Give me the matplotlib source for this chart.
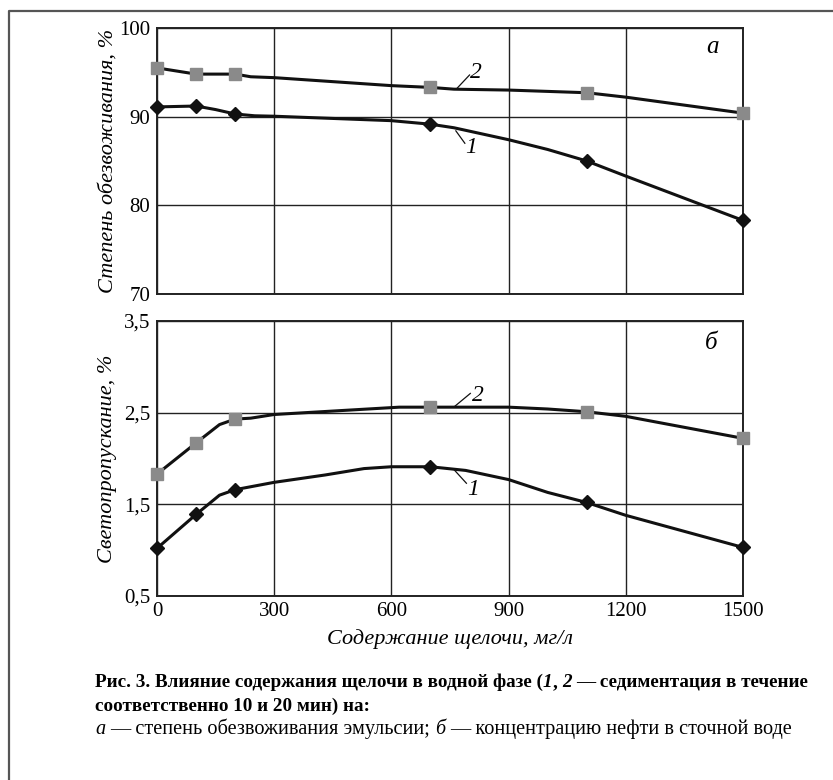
import numpy as np
import matplotlib.pyplot as plt
from matplotlib.lines import Line2D

SERIF = 'Liberation Serif'
plt.rcParams['font.family'] = [SERIF, 'DejaVu Serif']

# marker points
x_pts = [0, 100, 200, 700, 1100, 1500]
a1_pts = [91.1, 91.2, 90.3, 89.15, 85.0, 78.3]
a2_pts = [95.5, 94.8, 94.8, 93.3, 92.7, 90.4]
b1_pts = [1.02, 1.39, 1.66, 1.91, 1.52, 1.03]
b2_pts = [1.83, 2.17, 2.43, 2.56, 2.51, 2.22]

# curves
a1_x = [0, 100, 150, 200, 250, 300, 600, 700, 760, 900, 1000, 1100, 1200, 1500]
a1_y = [91.1, 91.2, 90.8, 90.3, 90.1, 90.05, 89.55, 89.15, 88.75, 87.4, 86.3, 85.0, 83.3, 78.3]
a2_x = [0, 100, 200, 240, 300, 500, 600, 700, 760, 900, 1100, 1200, 1300, 1500]
a2_y = [95.5, 94.8, 94.8, 94.5, 94.4, 93.8, 93.5, 93.3, 93.1, 93.0, 92.7, 92.2, 91.6, 90.4]
b1_x = [0, 100, 160, 200, 300, 430, 530, 600, 700, 790, 900, 1000, 1100, 1200, 1500]
b1_y = [1.02, 1.39, 1.60, 1.66, 1.74, 1.82, 1.89, 1.91, 1.91, 1.87, 1.77, 1.63, 1.52, 1.38, 1.03]
b2_x = [0, 100, 160, 200, 240, 300, 500, 620, 700, 900, 1000, 1100, 1200, 1500]
b2_y = [1.83, 2.17, 2.37, 2.43, 2.44, 2.48, 2.53, 2.56, 2.56, 2.56, 2.54, 2.51, 2.46, 2.22]

x_ticks = [0, 300, 600, 900, 1200, 1500]
a_ticks = [70, 80, 90, 100]
b_ticks = [0.5, 1.5, 2.5, 3.5]
b_ticklabels = ['0,5', '1,5', '2,5', '3,5']

fig = plt.figure(figsize=(8.33, 7.8), dpi=100)
W, H = 833, 780

def px_axes(l, t, r, b):
    return fig.add_axes([l / W, 1 - b / H, (r - l) / W, (b - t) / H])

ax1 = px_axes(157, 28, 743, 294)
ax2 = px_axes(157, 321, 743, 596)

def style_axes(ax, yticks, ylabels, ylim, ylabel):
    ax.set_xlim(0, 1500)
    ax.set_ylim(*ylim)
    ax.set_xticks(x_ticks)
    ax.set_yticks(yticks)
    ax.set_yticklabels(ylabels)
    ax.grid(True, color='#222222', lw=1.0)
    ax.set_axisbelow(True)
    ax.tick_params(length=0, labelsize=15, pad=5)
    for s in ax.spines.values():
        s.set_linewidth(1.4)
        s.set_color('#222222')
    ax.set_ylabel(ylabel, fontsize=16, style='italic')
    ax.yaxis.set_label_coords(-0.068, 0.5)

style_axes(ax1, a_ticks, [str(t) for t in a_ticks], (70, 100), 'Степень обезвоживания, %')
style_axes(ax2, b_ticks, b_ticklabels, (0.5, 3.5), 'Светопропускание, %')
ax1.set_xticklabels([])
ax2.tick_params(axis='x', pad=4)
ax2.set_xlabel('Содержание щелочи, мг/л', fontsize=16, style='italic', labelpad=6)

for ax, c1x, c1y, c2x, c2y, p1, p2 in [(ax1, a1_x, a1_y, a2_x, a2_y, a1_pts, a2_pts),
                                       (ax2, b1_x, b1_y, b2_x, b2_y, b1_pts, b2_pts)]:
    ax.plot(c2x, c2y, color='#111111', lw=2.2, zorder=3, clip_on=False)
    ax.plot(c1x, c1y, color='#111111', lw=2.2, zorder=3, clip_on=False)
    ax.plot(x_pts, p2, ls='none', marker='s', ms=8, color='#8a8a8a', zorder=4, clip_on=False)
    ax.plot(x_pts, p1, ls='none', marker='D', ms=7.5, color='#111111', zorder=4, clip_on=False)

# curve numbers with leader lines
ax1.plot([768, 800], [93.2, 94.7], color='#111111', lw=0.9)
ax1.text(802, 95.0, '2', fontsize=17, style='italic', va='center', ha='left')
ax1.plot([765, 788], [88.4, 87.0], color='#111111', lw=0.9)
ax1.text(790, 86.5, '1', fontsize=17, style='italic', va='center', ha='left')
ax2.plot([761, 802], [2.565, 2.71], color='#111111', lw=0.9)
ax2.text(805, 2.69, '2', fontsize=17, style='italic', va='center', ha='left')
ax2.plot([761, 792], [1.875, 1.73], color='#111111', lw=0.9)
ax2.text(794, 1.66, '1', fontsize=17, style='italic', va='center', ha='left')

ax1.text(1421, 97.9, 'а', fontsize=18, style='italic', ha='center', va='center')
ax2.text(1418, 3.26, 'б', fontsize=18, style='italic', ha='center', va='center')

# frame
fig.add_artist(Line2D([9 / W, 9 / W, 1], [0, 1 - 11 / H, 1 - 11 / H],
                      color='#555555', lw=1.6, transform=fig.transFigure))

# caption with mixed styles
renderer = fig.canvas.get_renderer()

def text_width(s, **kw):
    t = fig.text(0, 0, s, **kw)
    w = t.get_window_extent(renderer).width
    t.remove()
    return w

def draw_runs(x0, y0, runs, size):
    x = x0
    for s, st, wt in runs:
        kw = dict(fontsize=size, style=st, weight=wt)
        sp = text_width('x x', **kw) - text_width('xx', **kw)
        lead = len(s) - len(s.lstrip(' '))
        trail = len(s) - len(s.rstrip(' '))
        x += lead * sp
        core = s.strip(' ')
        if core:
            t = fig.text(x / W, 1 - y0 / H, core, va='baseline', ha='left', **kw)
            x += t.get_window_extent(renderer).width
        x += trail * sp

draw_runs(95, 687, [('Рис. 3. Влияние содержания щелочи в водной фазе (', 'normal', 'bold'),
                    ('1', 'italic', 'bold'), (', ', 'normal', 'bold'),
                    ('2', 'italic', 'bold'),
                    (' — седиментация в течение', 'normal', 'bold')], 13.8)
draw_runs(95, 711, [('соответственно 10 и 20 мин) на:', 'normal', 'bold')], 13.8)
draw_runs(95, 734, [('а', 'italic', 'normal'),
                    (' — степень обезвоживания эмульсии; ', 'normal', 'normal'),
                    ('б', 'italic', 'normal'),
                    (' — концентрацию нефти в сточной воде', 'normal', 'normal')], 14.6)

fig.savefig('out.png', dpi=100)
